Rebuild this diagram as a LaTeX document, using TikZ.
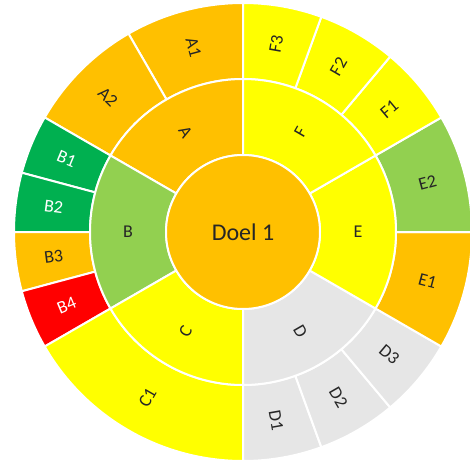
\documentclass[tikz,border=0pt]{standalone}
\usepackage{fontspec}
\setmainfont{Carlito}
\definecolor{cOrange}{HTML}{FFC000}
\definecolor{cYellow}{HTML}{FFFF00}
\definecolor{cLGreen}{HTML}{92D050}
\definecolor{cGreen}{HTML}{00B050}
\definecolor{cRed}{HTML}{FF0000}
\definecolor{cGray}{HTML}{E6E6E6}
\definecolor{cText}{HTML}{262626}
\newcommand{\mysector}[5]{%
  \filldraw[segstyle, fill=#5] (#3:#1pt) arc[start angle=#3, end angle=#4, radius=#1pt]
    -- (#4:#2pt) arc[start angle=#4, end angle=#3, radius=#2pt] -- cycle;}
\tikzset{
  segstyle/.style={draw=white, line width=2pt, line join=miter},
  lbl/.style={text=cText, font=\fontsize{18}{20}\selectfont, inner sep=0pt},
  wlbl/.style={lbl, text=white},
  centerlbl/.style={text=cText, font=\fontsize{24}{28}\selectfont, inner sep=0pt}
}
\begin{document}
\begin{tikzpicture}
\useasboundingbox (-243pt,-229pt) rectangle (227pt,232pt);
\clip (-243pt,-229pt) rectangle (227pt,232pt);
% outer ring
\mysector{229}{153}{90}{120}{cOrange}
\mysector{229}{153}{120}{150}{cOrange}
\mysector{229}{153}{150}{165}{cGreen}
\mysector{229}{153}{165}{180}{cGreen}
\mysector{229}{153}{180}{195}{cOrange}
\mysector{229}{153}{195}{210}{cRed}
\mysector{229}{153}{210}{270}{cYellow}
\mysector{229}{153}{270}{290}{cGray}
\mysector{229}{153}{290}{310}{cGray}
\mysector{229}{153}{310}{330}{cGray}
\mysector{229}{153}{330}{360}{cOrange}
\mysector{229}{153}{0}{30}{cLGreen}
\mysector{229}{153}{30}{50}{cYellow}
\mysector{229}{153}{50}{70}{cYellow}
\mysector{229}{153}{70}{90}{cYellow}
% middle ring
\mysector{153}{77}{90}{150}{cOrange}
\mysector{153}{77}{150}{210}{cLGreen}
\mysector{153}{77}{210}{270}{cYellow}
\mysector{153}{77}{270}{330}{cGray}
\mysector{153}{77}{330}{390}{cYellow}
\mysector{153}{77}{30}{90}{cYellow}
% center
\filldraw[segstyle, fill=cOrange] (0,0) circle[radius=77pt];
\node[centerlbl] (doel) at (0,0) {Doel 1};
% middle labels
\node[lbl, rotate=-60] (A) at (120:115pt) {A};
\node[lbl] (B) at (180:115pt) {B};
\node[lbl, rotate=60] (C) at (240:115pt) {C};
\node[lbl, rotate=-60] (D) at (300:115pt) {D};
\node[lbl] (E) at (0:115pt) {E};
\node[lbl, rotate=60] (F) at (60:115pt) {F};
% outer labels
\node[lbl, rotate=-75] (A1) at (105:191pt) {A1};
\node[lbl, rotate=-45] (A2) at (135:191pt) {A2};
\node[wlbl, rotate=-22.5] (B1) at (157.5:191pt) {B1};
\node[wlbl, rotate=-7.5] (B2) at (172.5:191pt) {B2};
\node[lbl, rotate=7.5] (B3) at (187.5:191pt) {B3};
\node[wlbl, rotate=22.5] (B4) at (202.5:191pt) {B4};
\node[lbl, rotate=60] (C1) at (240:191pt) {C1};
\node[lbl, rotate=-80] (D1) at (280:191pt) {D1};
\node[lbl, rotate=-60] (D2) at (300:191pt) {D2};
\node[lbl, rotate=-40] (D3) at (320:191pt) {D3};
\node[lbl, rotate=-15] (E1) at (345:191pt) {E1};
\node[lbl, rotate=15] (E2) at (15:191pt) {E2};
\node[lbl, rotate=40] (F1) at (40:191pt) {F1};
\node[lbl, rotate=60] (F2) at (60:191pt) {F2};
\node[lbl, rotate=80] (F3) at (80:191pt) {F3};
\end{tikzpicture}
\end{document}
